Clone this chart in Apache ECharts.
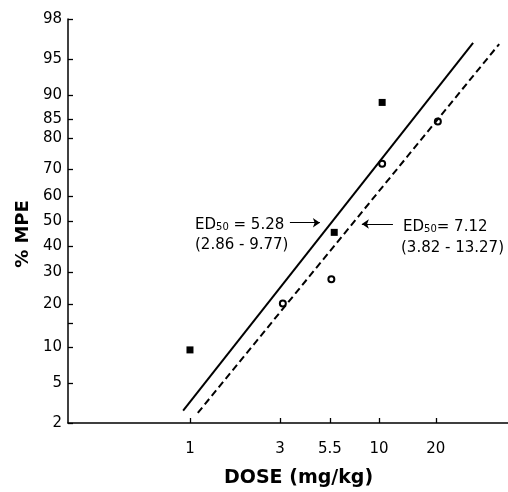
<!DOCTYPE html>
<html>
<head>
<meta charset="utf-8">
<script src="https://cdn.jsdelivr.net/npm/echarts@6/dist/echarts.min.js"></script>
<style>html,body{margin:0;padding:0;background:#fff}#c{width:508px;height:492px}</style>
</head>
<body>
<div id="c"></div>
<script>
// ---- data (dose in mg/kg, response in % MPE) ----
const yTickPct = [2, 5, 10, 15, 20, 30, 40, 50, 60, 70, 80, 85, 90, 95, 98];
const yLabelPct = [2, 5, 10, 20, 30, 40, 50, 60, 70, 80, 85, 90, 95, 98];
const xTickDose = [1, 3, 5.5, 10, 20];
const xTickLabels = ['1', '3', '5.5', '10', '20'];

const filledDose = [1, 5.8, 10.4];
const filledPct = [9.5, 45.4, 88.6];
const openDose = [3.1, 5.6, 10.4, 20.5];
const openPct = [20.1, 27.7, 72, 84.4];

const solidLineDose = [0.92, 31.5];
const solidLinePct = [2.7, 96.5];
const dashedLineDose = [1.1, 43.3];
const dashedLinePct = [2.55, 96.4];

const arrow1Dose = [3.38, 4.87];
const arrow1Pct = [49.3, 49.3];
const arrow2Dose = [11.86, 8.12];
const arrow2Pct = [48.8, 48.8];

// ---- transforms ----
function probit(p) {
  const a = [-3.969683028665376e+01, 2.209460984245205e+02, -2.759285104469687e+02, 1.383577518672690e+02, -3.066479806614716e+01, 2.506628277459239e+00];
  const b = [-5.447609879822406e+01, 1.615858368580409e+02, -1.556989798598866e+02, 6.680131188771972e+01, -1.328068155288572e+01];
  const c = [-7.784894002430293e-03, -3.223964580411365e-01, -2.400758277161838e+00, -2.549671010229528e+00, 4.374664141464968e+00, 2.938163982698783e+00];
  const d = [7.784695709041462e-03, 3.224671290700398e-01, 2.445134137142996e+00, 3.754408661907416e+00];
  const plow = 0.02425, phigh = 1 - plow;
  let q, r;
  if (p < plow) {
    q = Math.sqrt(-2 * Math.log(p));
    return (((((c[0]*q+c[1])*q+c[2])*q+c[3])*q+c[4])*q+c[5]) / ((((d[0]*q+d[1])*q+d[2])*q+d[3])*q+1);
  } else if (p <= phigh) {
    q = p - 0.5; r = q * q;
    return (((((a[0]*r+a[1])*r+a[2])*r+a[3])*r+a[4])*r+a[5])*q / (((((b[0]*r+b[1])*r+b[2])*r+b[3])*r+b[4])*r+1);
  } else {
    q = Math.sqrt(-2 * Math.log(1 - p));
    return -(((((c[0]*q+c[1])*q+c[2])*q+c[3])*q+c[4])*q+c[5]) / ((((d[0]*q+d[1])*q+d[2])*q+d[3])*q+1);
  }
}
const Y = pct => probit(pct / 100);
const X = dose => Math.log10(dose);
const pts = (ds, ps) => ds.map((d, i) => [X(d), Y(ps[i])]);

const FONT = 'DejaVu Sans';
const chart = echarts.init(document.getElementById('c'), null, {renderer: 'canvas'});

chart.setOption({
  animation: false,
  backgroundColor: '#fff',
  grid: {left: 68, right: 0, top: 19, bottom: 69},
  xAxis: {
    type: 'value',
    min: -0.6455, max: 1.683,
    splitLine: {show: false},
    axisLine: {onZero: false, lineStyle: {color: '#000', width: 1.5}},
    axisTick: {inside: true, length: 5, lineStyle: {color: '#000', width: 1.3}, customValues: xTickDose.map(X)},
    axisLabel: {
      margin: 19, color: '#000', fontFamily: FONT, fontSize: 15,
      customValues: xTickDose.map(X),
      formatter: v => {
        let best = 0;
        xTickDose.forEach((d, i) => { if (Math.abs(X(d) - v) < Math.abs(X(xTickDose[best]) - v)) best = i; });
        return xTickLabels[best];
      }
    }
  },
  yAxis: {
    type: 'value',
    min: Y(2), max: Y(98),
    splitLine: {show: false},
    axisLine: {onZero: false, lineStyle: {color: '#000', width: 1.5}},
    axisTick: {inside: true, length: 5, lineStyle: {color: '#000', width: 1.3}, customValues: yTickPct.map(Y)},
    axisLabel: {
      margin: 6, color: '#000', fontFamily: FONT, fontSize: 15,
      customValues: yLabelPct.map(Y),
      formatter: v => {
        let best = yLabelPct[0];
        yLabelPct.forEach(l => { if (Math.abs(Y(l) - v) < Math.abs(Y(best) - v)) best = l; });
        return String(best);
      }
    }
  },
  series: [
    {
      type: 'line', data: pts(solidLineDose, solidLinePct), symbol: 'none', silent: true,
      lineStyle: {color: '#000', width: 2}
    },
    {
      type: 'line', data: pts(dashedLineDose, dashedLinePct), symbol: 'none', silent: true,
      lineStyle: {color: '#000', width: 2, type: [7, 4]}
    },
    {
      type: 'scatter', data: pts(filledDose, filledPct), symbol: 'rect', symbolSize: 7,
      itemStyle: {color: '#000', opacity: 1}
    },
    {
      type: 'scatter', data: pts(openDose, openPct), symbol: 'emptyCircle', symbolSize: 6,
      itemStyle: {color: '#000', borderColor: '#000', borderWidth: 1.5, opacity: 1},
      markLine: {
        silent: true, animation: false,
        symbol: ['none', 'arrow'], symbolSize: 7,
        label: {show: false},
        lineStyle: {color: '#000', width: 1, type: 'solid'},
        data: [
          [{coord: [X(arrow1Dose[0]), Y(arrow1Pct[0])]}, {coord: [X(arrow1Dose[1]), Y(arrow1Pct[1])]}],
          [{coord: [X(arrow2Dose[0]), Y(arrow2Pct[0])]}, {coord: [X(arrow2Dose[1]), Y(arrow2Pct[1])]}]
        ]
      }
    }
  ],
  graphic: [
    {type: 'text', left: 224, top: 469, style: {text: 'DOSE (mg/kg)', font: 'bold 19px "DejaVu Sans"', fill: '#000'}},
    {type: 'text', x: 23, y: 234, rotation: Math.PI / 2,
      style: {text: '% MPE', font: 'bold 18px "DejaVu Sans"', fill: '#000', align: 'center', verticalAlign: 'middle'}},
    {type: 'text', x: 195, y: 225, style: {
      text: '{a|ED}{s|50}{a| = 5.28}', verticalAlign: 'middle', fill: '#000',
      rich: {a: {fontFamily: FONT, fontSize: 15, lineHeight: 18}, s: {fontFamily: FONT, fontSize: 10, lineHeight: 18, padding: [5, 0, 0, 0]}}
    }},
    {type: 'text', x: 195, y: 245, style: {text: '(2.86 - 9.77)', verticalAlign: 'middle', fill: '#000', font: '15px "DejaVu Sans"'}},
    {type: 'text', x: 403, y: 227, style: {
      text: '{a|ED}{s|50}{a|= 7.12}', verticalAlign: 'middle', fill: '#000',
      rich: {a: {fontFamily: FONT, fontSize: 15, lineHeight: 18}, s: {fontFamily: FONT, fontSize: 10, lineHeight: 18, padding: [5, 0, 0, 0]}}
    }},
    {type: 'text', x: 401, y: 248, style: {text: '(3.82 - 13.27)', verticalAlign: 'middle', fill: '#000', font: '15px "DejaVu Sans"'}}
  ]
});
</script>
</body>
</html>
